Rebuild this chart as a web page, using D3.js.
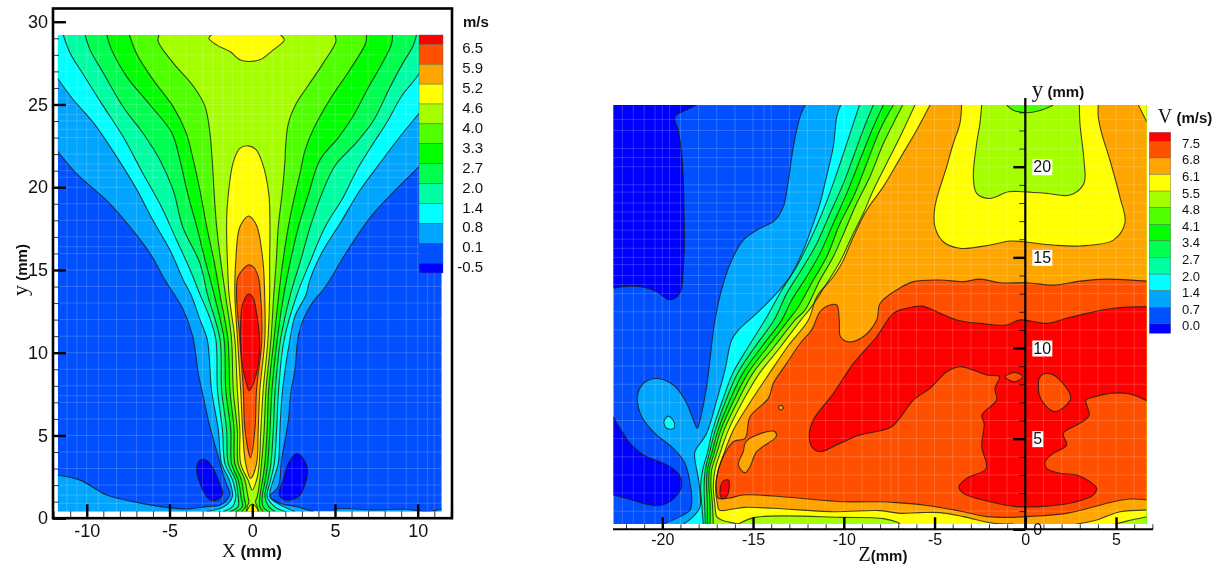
<!DOCTYPE html>
<html>
<head>
<meta charset="utf-8">
<script src="https://cdn.jsdelivr.net/npm/d3@7"></script>
<style>
body { margin: 0; background: #fff; }
svg { filter: blur(0.35px); }
text { font-family: "Liberation Sans", Arial, sans-serif; fill: #111; }
.serif { font-family: "Liberation Serif", serif; }
.bold { font-weight: bold; }
.tick line { stroke: #000; }
.domain { display: none; }
</style>
</head>
<body>
<svg id="plot" width="1225" height="568"></svg>
<script>
// ---- left chart: X / y in mm, contour lines ----
var leftLabels = ["6.5","5.9","5.2","4.6","4.0","3.3","2.7","2.0","1.4","0.8","0.1","-0.5"];
var bandColors = ["#ff5000","#ffa500","#ffff00","#a5ff00","#50ff00","#00ff00","#00ff50","#00ffa5","#00ffff","#00a5ff","#0050ff","#0000ff"];
var topColor = "#ff0000";
var leftXTicks = [-10,-5,0,5,10];
var leftYTicks = [0,5,10,15,20,25,30];
var leftXMinor = d3.range(-12,13);
var leftYMinor = d3.range(0,31);
var leftMeshX = [-11.2,-10.6,-10,-9.3,-8.2,-7,-6,-5,-4,-3,-2.4,-1.8,-1.2,-0.6,0,0.6,1.2,1.8,2.4,3,4,5,6,7,8.2,9.3,10,10.6,11];
var leftMeshY = [0.9,1.4,2,3,4,5,6,7,7.4,8,9,10,11,12,13,14,15,16,16.4,17,18,19,20,20.6,21,21.4,22,23,23.5,24,24.4,25,25.4,26,27,28];

var l08Left = [[-11.78,22.2],[-10.6,20.8],[-8.8,19.2],[-7.39,17.6],[-6.18,16],[-5.28,14.4],[-4.77,13.6],[-4.17,12.6],[-3.6,11],[-3.26,8.75],[-2.96,7.35],[-2.56,5.53],[-2.05,3.72],[-1.65,2.3],[-1.35,1.5],[-1.45,1.2],[-1.95,0.8],[-2.76,0.7],[-3.97,0.56],[-5.08,0.64],[-7.19,1],[-8.8,1.4],[-10.4,2.3],[-11.78,2.6]];
var l08Right = [[11.44,22.65],[10.03,21.2],[8.52,19.7],[7.31,18.4],[6.3,17],[5.4,15.6],[4.69,14.4],[4.29,13.8],[3.69,13.1],[3.08,12],[2.78,11],[2.58,9],[2.32,7.5],[2.18,5.9],[1.77,3.5],[1.57,1.9],[1.07,1.3],[1.67,0.9],[2.68,0.7],[3.69,0.4]];
var l08Strip = [[5,0.4],[5.1,0.54],[7.31,0.5],[9.33,0.54],[10.53,0.4],[11.44,0.56]];
var l14Left = [[-11.78,26.6],[-10.82,25.3],[-9.6,23.9],[-8.2,21.85],[-7,19.9],[-6,18],[-4.97,16.2],[-4.17,14.4],[-3.7,13.5],[-3.16,12],[-2.72,10.8],[-2.46,7.75],[-2.05,5.33],[-1.85,3.3],[-1.39,2.3],[-1.2,1.3],[-1.7,0.7],[-2.75,0.4]];
var l14Right = [[11.44,26.1],[10.03,24.4],[8.92,23.05],[7.71,21.45],[6.5,19.8],[5.3,17.8],[4.29,16.2],[3.48,14.4],[3.25,13.5],[2.58,12.2],[2.28,10.8],[1.83,7.75],[1.67,5.33],[1.57,3.3],[1.27,2.3],[1.07,1.3],[1.9,0.7],[2.58,0.4]];
var l20Left = [[-11.42,29.2],[-11,28.1],[-10.2,26.8],[-9,24.9],[-7.8,23.05],[-6.59,20.8],[-5.58,19],[-4.57,16.8],[-3.75,15],[-3.15,13.5],[-2.6,12.2],[-2.2,10.8],[-2.1,7.75],[-1.8,5.33],[-1.65,3.3],[-1.19,2.3],[-1,1.3],[-1.2,0.7],[-1.75,0.4]];
var l20Right = [[11.34,29.2],[10.03,26.8],[9.02,25.5],[8.12,23.9],[7.31,22.65],[6.3,21],[5.5,19.4],[4.4,17.6],[3.5,15.5],[2.7,13.5],[1.93,10.8],[1.59,7.75],[1.47,5.33],[1.33,3.3],[1.11,2.3],[0.9,1.3],[1.35,0.7],[1.97,0.4]];
var l27Left = [[-10.1,29.2],[-9.8,28.3],[-9,26.9],[-7.8,24.85],[-6.59,23.25],[-5.58,21.65],[-4.77,19.8],[-4.2,17.6],[-3.16,15.4],[-2.7,13.5],[-1.95,10.8],[-1.85,7.75],[-1.55,5.33],[-1.45,3.3],[-1,2.3],[-0.85,1.3],[-0.85,0.7],[-1.35,0.4]];
var l27Right = [[9.93,29.2],[9.7,28.5],[9.1,27.5],[8.3,26],[7.31,24],[6.2,22.6],[5,21.3],[4.2,19.6],[3.5,17.6],[2.9,15.5],[2.3,13.5],[1.71,10.8],[1.39,7.75],[1.27,5.33],[1.13,3.3],[0.95,2.3],[0.77,1.3],[1,0.7],[1.37,0.4]];
var l33Left = [[-8.79,29.2],[-8.5,28.3],[-7.6,26.7],[-6.2,25],[-4.87,23.3],[-4.37,21.64],[-3.9,19.6],[-3.35,17.6],[-2.85,15.6],[-2.3,13.5],[-1.7,10.8],[-1.6,7.75],[-1.3,5.33],[-1.25,3.3],[-0.85,2.3],[-0.68,1.3],[-0.6,0.7],[-0.95,0.4]];
var l33Right = [[8.48,29.2],[8.4,28.6],[7.8,27.4],[7,26],[6.1,24.3],[5.2,23],[4.09,21.64],[3.4,19.6],[2.79,17.6],[2.3,15.5],[1.9,13.5],[1.51,10.8],[1.19,7.75],[1.07,5.33],[0.93,3.3],[0.79,2.3],[0.6,1.3],[0.65,0.7],[0.97,0.4]];
var l40Left = [[-7.42,29.2],[-7,28.1],[-6,26.5],[-4.8,24.9],[-4,23.3],[-3.56,21.64],[-3.1,19.5],[-2.75,17.6],[-2.3,15.5],[-1.95,13.5],[-1.47,10.8],[-1.35,7.75],[-1.1,5.33],[-1.05,3.3],[-0.65,2.3],[-0.5,1.3],[-0.4,0.7],[-0.65,0.4]];
var l40Right = [[6.9,29.2],[6.85,28.7],[5.9,27.1],[4.69,25.3],[3.69,23.5],[3.18,22.2],[2.88,20.8],[2.5,19.2],[2.18,17.6],[1.85,15.5],[1.6,13.5],[1.31,10.8],[0.99,7.75],[0.9,5.33],[0.76,3.3],[0.62,2.3],[0.46,1.3],[0.45,0.7],[0.66,0.4]];
var l46Left = [[-5.64,29.2],[-5.68,28.8],[-4.77,27.5],[-3.56,26.1],[-2.86,24.9],[-2.56,23.3],[-2.42,21.64],[-2.3,19.6],[-2.15,17.6],[-1.9,15.5],[-1.62,13.5],[-1.25,10.8],[-1.15,7.75],[-0.9,5.33],[-0.85,3.3],[-0.45,2.3],[-0.26,1.3],[-0.2,1],[-0.3,0.7],[-0.36,0.4]];
var l46Right = [[5,29.2],[5.05,28.8],[4.29,27.5],[3.28,26],[2.68,25.1],[2.18,23.85],[2,22.2],[1.98,21.64],[1.8,19.6],[1.57,17.6],[1.45,15.5],[1.3,13.5],[1.13,10.8],[0.83,7.75],[0.72,5.33],[0.56,3.3],[0.46,2.3],[0.3,1.3],[0.2,1],[0.3,0.7],[0.36,0.4]];
var l52Top = [[-2.46,29.2],[-2.62,29],[-2.16,28.6],[-1.35,28.2],[-0.75,27.7],[-0.24,27.6],[0.46,27.7],[1.27,28.3],[1.93,28.9],[1.71,29.2]];
var l52Core = [[-0.24,22.5],[-0.75,22.35],[-1.15,21.5],[-1.5,19],[-1.55,17.6],[-1.5,15.5],[-1.4,13.5],[-1.05,10.8],[-0.9,7.75],[-0.75,5.33],[-0.7,3.3],[-0.25,2.3],[0,1.7],[0.26,2.3],[0.42,3.3],[0.52,5.33],[0.66,7.75],[0.95,10.8],[1.05,13.5],[1.05,15.5],[1.07,17.6],[1,19.6],[0.6,21.5],[0.2,22.3]];
var l52Foot = [[-0.34,0.4],[0,0.86],[0.42,0.4]];
var l59Core = [[-0.24,18.26],[-0.75,17.6],[-1,15.5],[-1.05,13.5],[-0.89,10.8],[-0.7,7.75],[-0.58,5.33],[-0.4,3.3],[-0.1,2.4],[0.26,3.3],[0.36,5.33],[0.46,7.75],[0.76,10.8],[0.75,13.5],[0.65,15.5],[0.3,17.6],[0,18.1]];
var l65Core = [[-0.24,15.3],[-0.85,14.6],[-0.95,13.5],[-0.75,10.8],[-0.54,7.75],[-0.44,5.33],[-0.1,3.65],[0.16,5.33],[0.26,7.75],[0.58,10.8],[0.5,13.5],[0.36,14.6],[0.05,15.2]];
var lTopCore = [[-0.2,13.55],[-0.58,12.97],[-0.7,11.77],[-0.7,10.57],[-0.58,9.15],[-0.38,8.25],[-0.18,7.7],[0.16,8.4],[0.42,9.76],[0.42,11.17],[0.26,12.4],[0.06,13.3]];
var lBlueLeft = [[-3.36,3],[-3.16,3.5],[-2.76,3.5],[-2.36,3],[-2.05,2.3],[-1.79,1.5],[-2.05,1.14],[-2.56,1.1],[-2.86,1.5],[-3.16,2.1]];
var lBlueRight = [[1.63,1.6],[1.87,2.3],[2.18,3.3],[2.68,3.9],[3.08,3.6],[3.34,2.9],[3.18,2],[2.88,1.4],[2.28,1.1],[1.77,1.2]];

// ---- right chart: Z / y in mm ----
var rightLabels = ["7.5","6.8","6.1","5.5","4.8","4.1","3.4","2.7","2.0","1.4","0.7","0.0"];
var rightXTicks = [-20,-15,-10,-5,0,5];
var rightYTicks = [0,5,10,15,20];
var rightXMinor = d3.range(-22,8);
var rightYMinor = d3.range(0,24);
var rightMeshX = [-22.2,-21.6,-21,-20.4,-20,-19.6,-19,-18,-17,-16,-15,-14.4,-14,-13,-12,-11,-10,-9,-8,-7.4,-7,-6,-5,-4,-3,-2,-1,1,2,3,4,5,6];
var rightMeshY = [1,2,3,4,5,6,7,8,9,10,11,12,13,13.5,14,14.6,15,15.5,16,16.5,17,17.5,18,18.6,19,20,20.5,21,22,22.6];

var r00Top = [[-18.1,23.4],[-18.57,23.18],[-19.3,22.75],[-19.12,22],[-18.93,20.7],[-18.84,19.26],[-18.8,17.42],[-18.78,15.95],[-18.84,14.5],[-18.97,13.2],[-19.3,12.74],[-19.67,12.68],[-20.31,13.1],[-21.04,13.35],[-21.96,13.4],[-22.7,13.3]];
var r00Low = [[-22.7,6.2],[-22.33,5.57],[-21.78,4.74],[-21.04,4.1],[-19.76,3.55],[-19.12,3.09],[-18.93,2.53],[-19.12,1.98],[-19.76,1.43],[-20.31,1.3],[-21.04,1.43],[-21.96,1.7],[-22.7,1.89]];
var r14Line = [[-12.13,23.4],[-12.41,22.75],[-12.78,21.1],[-13.05,19.26],[-13.33,17.8],[-13.79,17.05],[-14.8,16.5],[-15.54,15.95],[-16.09,15.03],[-16.64,13.56],[-17.1,11.54],[-17.56,7.86],[-17.92,6.03],[-18.07,5.57],[-18.29,6.03],[-18.75,7.13],[-19.39,7.96],[-20.31,8.32],[-21.04,8.05],[-21.37,7.31],[-21.13,6.21],[-20.4,5.29],[-19.39,4.46],[-18.75,3.64],[-18.47,2.53],[-18.38,1.8],[-18.47,1.06],[-19.02,0.7],[-19.94,0.29]];
var r20Line = [[-10.17,23.4],[-10.39,22.75],[-10.58,21.1],[-10.95,19.45],[-11.31,17.98],[-11.68,16.87],[-12.23,15.4],[-12.96,13.93],[-13.88,12.83],[-14.8,11.91],[-15.8,11],[-16.18,10.44],[-16.55,8.78],[-17,7.13],[-17.56,5.29],[-18.2,4.28],[-18.2,3.82],[-18,2.72],[-17.92,1.25],[-18.3,0.7],[-18.84,0.29]];
var r20Spot = [[-19.67,6.24],[-19.91,5.93],[-19.76,5.57],[-19.36,5.57],[-19.36,5.93]];
var r27Line = [[-9.14,23.4],[-9.47,22.39],[-10.02,20.73],[-10.58,19.08],[-11.13,17.6],[-11.86,15.95],[-12.6,14.48],[-13.42,13.19],[-14.34,11.54],[-15.26,10.07],[-16.12,8.6],[-16.67,7.13],[-17.23,5.47],[-17.52,4.19],[-17.78,3.27],[-17.89,2.35],[-17.83,1.43],[-17.74,0.29]];
var r34Line = [[-8.37,23.4],[-8.93,22.03],[-9.47,20.55],[-10.02,19.08],[-10.76,17.42],[-11.49,15.77],[-12.23,14.48],[-13.15,13],[-13.84,11.54],[-14.89,10.07],[-15.86,8.6],[-16.49,7.13],[-17.08,5.47],[-17.41,4.19],[-17.63,3.27],[-17.7,2.35],[-17.67,1.43],[-17.63,0.29]];
var r41Line = [[-7.82,23.4],[-8.37,22.2],[-9.11,20.37],[-9.84,18.53],[-10.58,16.87],[-11.31,15.22],[-12.05,13.93],[-12.87,12.65],[-13.42,11.54],[-14.52,10.07],[-15.57,8.6],[-16.27,7.13],[-16.93,5.47],[-17.28,4.19],[-17.52,3.27],[-17.56,2.35],[-17.52,1.43],[-17.52,0.29]];
var r48Line = [[-7.27,23.4],[-8.01,22.03],[-8.74,20.18],[-9.47,18.34],[-10.21,16.87],[-10.94,15.03],[-11.68,13.75],[-12.5,12.28],[-13.05,11.54],[-14.19,10.07],[-15.29,8.6],[-16.05,7.13],[-16.78,5.47],[-17.15,4.19],[-17.41,3.27],[-17.43,2.35],[-17.37,1.43],[-17.37,0.29]];
var r55Line = [[-6.76,23.4],[-7.09,22.75],[-7.82,21.28],[-8.56,19.45],[-9.29,17.98],[-9.93,16.5],[-10.58,15.03],[-11.31,13.75],[-12.14,12.09],[-12.69,11.54],[-13.84,10.07],[-15.02,8.6],[-15.81,7.13],[-16.6,5.47],[-17,4.19],[-17.28,3.27],[-17.32,2.35],[-17.24,1.43],[-17.19,0.29]];
var r61Line = [[-6.08,23.4],[-6.9,21.65],[-7.64,20.18],[-8.37,18.71],[-8.93,17.42],[-9.56,16.14],[-10.21,14.76],[-10.94,13.56],[-11.77,12.28],[-12.37,11.54],[-13.48,10.07],[-14.65,8.6],[-15.53,7.13],[-16.36,5.47],[-16.82,4.19],[-17.1,3.27],[-17.19,2.35],[-17.11,1.43],[-17,0.7],[-16.73,0.51],[-15.81,0.29]];
var r61Mid = [[-15.81,0.29],[-14.89,0.66],[-10.02,0.66],[-7.82,0.59],[-7.08,0.4],[-6.9,0.29]];
var r61End = [[4.94,0.29],[5.59,0.45],[6.69,0.69]];
var r68Line = [[-5.25,23.4],[-5.98,22.03],[-6.9,20.46],[-7.82,18.9],[-8.74,17.6],[-9.47,16.14],[-10.11,14.67],[-10.58,13.93],[-11.49,12.83],[-11.95,11.54],[-13.1,10.07],[-14.1,8.6],[-15.08,7.13],[-16.09,5.47],[-16.6,4.19],[-16.91,3.27],[-17.06,2.35],[-16.97,1.43],[-16.86,1.06],[-16.09,1.12],[-15.44,1.21],[-13.88,1.16],[-10.57,0.97],[-8,1.03],[-6.9,0.88],[-5.8,0.92],[-4.7,0.92],[-3.41,0.7],[-1.76,0.33],[-0.66,0.29]];
var r68Mid = [[2.83,0.29],[3.93,0.51],[5.22,0.97],[6.69,1.06]];
var r68Corner = [[6.69,22.48],[6.23,23.4]];
var r68Notch = [[4.02,23.4],[4.02,22.75],[4.21,21.84],[4.66,20.37],[5.21,18.34],[5.49,16.9],[4.85,15.95],[3.01,15.63],[1.54,15.68],[-0.11,15.86],[-0.84,15.9],[-1.95,15.68],[-3.6,15.5],[-4.52,15.86],[-4.98,16.69],[-4.98,17.79],[-4.33,20],[-3.97,21.28],[-3.6,22.39],[-3.51,23.4]];
var r55Patch = [[-2.4,23.4],[-2.5,22.39],[-2.68,21.28],[-2.86,19.45],[-2.68,18.53],[-1.95,18.25],[-0.93,18.62],[-0.11,18.62],[1.18,18.53],[2.46,18.44],[3.23,19.08],[3.23,20.37],[3.01,22.39],[2.98,23.4]];
var r48Patch = [[-1.03,23.4],[-0.66,23.12],[0,22.98],[0.81,23.1],[1.54,23.4]];
var r75Line = [[6.69,13.69],[4.48,13.8],[3.01,13.69],[1.54,13.47],[0.07,13.6],[-1.39,13.6],[-2.5,13.8],[-3.41,13.66],[-4.7,13.75],[-6.17,13.66],[-7.09,13.2],[-8,12.46],[-8.19,11.54],[-8.93,10.62],[-9.75,10.34],[-10.18,10.62],[-10.25,11.54],[-10.39,12.37],[-10.76,12.37],[-11.31,12],[-11.77,11],[-12.41,10.25],[-13.15,9.15],[-13.88,8.05],[-14.16,7.22],[-15.17,6.21],[-15.44,5.02],[-16.09,4.83],[-16.73,3.82],[-17,2.9],[-17,1.98],[-16.91,1.71],[-16.36,1.71],[-15.54,1.89],[-13.88,1.84],[-12.41,1.71],[-10.02,1.52],[-8,1.52],[-7.09,1.47],[-5.62,1.34],[-3.41,0.97],[-2.13,0.7],[-0.66,0.66],[-0.02,0.7],[2.28,0.88],[4.85,1.52],[5.76,1.67],[6.69,1.62]];
var r68PatchA = [[-15.39,4.83],[-14.25,5.38],[-13.79,5.38],[-13.73,5.11],[-14.8,4.28],[-15.17,3.45],[-15.44,3.12],[-15.81,3.55],[-15.54,4.28]];
var r68Dot = [[-13.6,6.71],[-13.48,6.84],[-13.33,6.71],[-13.48,6.58]];
var rTopLine = [[6.69,12.28],[4.85,12.19],[3.38,11.91],[2.28,11.64],[1.18,11.36],[-0.29,11.55],[-1.03,11.27],[-2.5,11.36],[-3.78,11.55],[-4.88,12],[-5.71,12.31],[-6.54,12.19],[-7.27,11.91],[-8.19,10.62],[-9.47,9.15],[-10.57,7.5],[-11.68,6.03],[-11.9,5.29],[-11.77,4.56],[-11.31,4.28],[-10.21,4.74],[-9.11,5.2],[-8,5.44],[-7.36,5.66],[-6.72,6.39],[-6.17,7.13],[-5.25,7.77],[-4.33,8.69],[-3.6,8.97],[-2.86,8.78],[-2.13,8.51],[-1.43,8.42],[-1.67,7.77],[-1.58,7.13],[-2.4,6.3],[-2.27,5.84],[-2.4,4.56],[-2.16,3.36],[-3.23,2.81],[-3.66,2.35],[-3.41,1.98],[-1.95,1.52],[-0.48,1.25],[1.18,1.28],[2.83,1.52],[3.74,1.89],[3.93,2.26],[3.56,2.63],[2.83,2.99],[1.91,3.09],[1.18,3.36],[1.09,3.73],[1.54,4.19],[2.28,4.65],[2.09,5.29],[3.01,5.84],[3.52,6.3],[3.34,7.13],[3.74,7.28],[4.66,7.5],[5.76,7.46],[6.69,7.09]];
var r75HoleA = [[-1.12,8.41],[-0.57,8.65],[-0.15,8.41],[-0.57,8.14]];
var r75HoleB = [[0.77,8.33],[0.99,8.56],[1.45,8.56],[1.91,8.23],[2.5,7.22],[1.64,6.49],[1.09,6.85],[0.77,7.41],[0.72,7.87]];
var rTopSpot = [[-16.36,2.72],[-16.64,2.66],[-16.82,2.16],[-16.73,1.71],[-16.49,1.76],[-16.31,2.35]];

var svg = d3.select("#plot");

// scales
var xLeft = d3.scaleLinear().domain([-12.04,12.07]).range([53,452]);
var yLeft = d3.scaleLinear().domain([0,30.8]).range([518.2,8.5]);
var xRight = d3.scaleLinear().domain([-23,7]).range([607.85,1152.35]);
var yRight = d3.scaleLinear().domain([0,24]).range([529.3,94.2]);

function corner(x, y) { return [[x, y]]; }

function drawField(id, x, y, x0, x1, y0, y1, base, regions, meshX, meshY) {
    var g = svg.append("g").attr("clip-path", "url(#" + id + ")");
    svg.append("clipPath").attr("id", id).append("rect")
        .attr("x", x(x0)).attr("y", y(y1))
        .attr("width", x(x1) - x(x0)).attr("height", y(y0) - y(y1));

    g.append("rect").attr("x", x(x0)).attr("y", y(y1))
        .attr("width", x(x1) - x(x0)).attr("height", y(y0) - y(y1))
        .attr("fill", base);

    var open = d3.line().x(function(d) { return x(d[0]); }).y(function(d) { return y(d[1]); })
        .curve(d3.curveCatmullRom.alpha(0.5));
    var closed = d3.line().x(function(d) { return x(d[0]); }).y(function(d) { return y(d[1]); })
        .curve(d3.curveCatmullRomClosed.alpha(0.5));

    function segPath(s) {
        if (s.length == 1) return "M" + x(s[0][0]) + "," + y(s[0][1]);
        return open(s);
    }

    regions.forEach(function(r) {
        var d = r.closed ? closed(r.segs[0]) : r.segs.map(function(s, i) {
            var p = segPath(s);
            return i ? "L" + p.slice(1) : p;
        }).join("") + "Z";
        g.append("path").attr("d", d).attr("fill", r.color);
    });

    // faint white mesh of the measuring grid
    g.selectAll("line.mv").data(meshX).enter().append("line")
        .attr("x1", function(d) { return x(d); }).attr("x2", function(d) { return x(d); })
        .attr("y1", y(y0)).attr("y2", y(y1))
        .attr("stroke", "#fff").attr("stroke-opacity", 0.18);
    g.selectAll("line.mh").data(meshY).enter().append("line")
        .attr("y1", function(d) { return y(d); }).attr("y2", function(d) { return y(d); })
        .attr("x1", x(x0)).attr("x2", x(x1))
        .attr("stroke", "#fff").attr("stroke-opacity", 0.18);

    regions.forEach(function(r) {
        var d = r.closed ? closed(r.segs[0]) : r.segs.filter(function(s) { return s.length > 1; }).map(open).join("");
        g.append("path").attr("d", d).attr("fill", "none")
            .attr("stroke", "#1a1a1a").attr("stroke-opacity", 0.8).attr("stroke-width", 1.1);
    });
}

function col(i) { return bandColors[i]; }
function rev(a) { return a.slice().reverse(); }

// band index follows the legend, 0 = top band below red
var leftTop = 29.2, leftLeft = -11.75, leftRight = 11.45, leftBottom = 0.4;
var leftRegions = [
    { color: col(9), segs: [corner(leftLeft, leftTop), l08Left, corner(leftLeft, leftBottom), rev(l08Right), corner(leftRight, leftTop)] },
    { color: col(9), segs: [l08Strip, corner(leftRight, leftBottom)] },
    { color: col(11), closed: true, segs: [lBlueLeft] },
    { color: col(11), closed: true, segs: [lBlueRight] },
    { color: col(8), segs: [corner(leftLeft, leftTop), l14Left, rev(l14Right), corner(leftRight, leftTop)] },
    { color: col(7), segs: [l20Left, rev(l20Right)] },
    { color: col(6), segs: [l27Left, rev(l27Right)] },
    { color: col(5), segs: [l33Left, rev(l33Right)] },
    { color: col(4), segs: [l40Left, rev(l40Right)] },
    { color: col(3), segs: [l46Left, rev(l46Right)] },
    { color: col(2), segs: [l52Top] },
    { color: col(2), closed: true, segs: [l52Core] },
    { color: col(2), segs: [l52Foot] },
    { color: col(1), closed: true, segs: [l59Core] },
    { color: col(0), closed: true, segs: [l65Core] },
    { color: topColor, closed: true, segs: [lTopCore] }
];

var rightTop = 23.4, rightLeft = -22.7, rightRight = 6.69, rightBottom = 0.29;
function toRightEdge(line) { return { segs: [line, corner(rightRight, rightBottom), corner(rightRight, rightTop)] }; }
function band(i, line) { var r = toRightEdge(line); r.color = col(i); return r; }
var rightRegions = [
    { color: col(11), segs: [corner(rightLeft, rightTop), r00Top] },
    { color: col(11), segs: [r00Low] },
    band(9, r14Line),
    band(8, r20Line),
    { color: col(8), closed: true, segs: [r20Spot] },
    band(7, r27Line),
    band(6, r34Line),
    band(5, r41Line),
    band(4, r48Line),
    band(3, r55Line),
    { color: col(2), segs: [r61Line, r61Mid, r61End, corner(rightRight, rightTop)] },
    { color: col(1), segs: [r68Line, r68Mid, r68Corner, r68Notch] },
    { color: col(3), segs: [r55Patch] },
    { color: col(4), segs: [r48Patch] },
    { color: col(0), segs: [r75Line] },
    { color: col(1), closed: true, segs: [r68PatchA] },
    { color: col(1), closed: true, segs: [r68Dot] },
    { color: topColor, segs: [rTopLine] },
    { color: col(0), closed: true, segs: [r75HoleA] },
    { color: col(0), closed: true, segs: [r75HoleB] },
    { color: topColor, closed: true, segs: [rTopSpot] }
];

drawField("clipLeft", xLeft, yLeft, leftLeft, leftRight, leftBottom, leftTop, col(10), leftRegions, leftMeshX, leftMeshY);
drawField("clipRight", xRight, yRight, rightLeft, rightRight, rightBottom, rightTop, col(10), rightRegions, rightMeshX, rightMeshY);

function drawLegend(labels, x, width, top, first, step, bottom, labelX, labelDy, size) {
    var s = d3.scaleLinear().domain([0, labels.length]).range([first, first + step * labels.length]);
    var g = svg.append("g");
    g.append("rect").attr("x", x).attr("y", top).attr("width", width).attr("height", first - top)
        .attr("fill", topColor).attr("stroke", "#555").attr("stroke-width", 0.4);
    g.selectAll("rect.band").data(labels).enter().append("rect")
        .attr("x", x).attr("width", width)
        .attr("y", function(d, i) { return s(i); })
        .attr("height", function(d, i) { return i == labels.length - 1 ? bottom - s(i) : step; })
        .attr("fill", function(d, i) { return col(i); })
        .attr("stroke", "#555").attr("stroke-width", 0.4);
    g.selectAll("text").data(labels).enter().append("text")
        .attr("x", labelX)
        .attr("y", function(d, i) { return s(i) + labelDy; })
        .attr("dy", "0.35em")
        .attr("text-anchor", "end")
        .attr("font-size", size)
        .text(function(d) { return d; });
}
drawLegend(leftLabels, 419, 24, 35, 44.3, 19.9, 273, 483, 3.8, 15);
drawLegend(rightLabels, 1149.3, 21.4, 132.3, 141.3, 16.6, 333.3, 1200, 2, 13);

// left frame and axes
svg.append("rect").attr("x", xLeft(-12.04)).attr("y", yLeft(30.8))
    .attr("width", xLeft(12.07) - xLeft(-12.04)).attr("height", yLeft(0) - yLeft(30.8))
    .attr("fill", "none").attr("stroke", "#000").attr("stroke-width", 2.6);

function styleMajor(g, size) {
    g.selectAll(".tick line").attr("stroke-width", 2.4);
    g.selectAll(".tick text").attr("font-size", size).attr("font-family", null);
}

var lxMinor = svg.append("g").attr("transform", "translate(0," + yLeft(0) + ")")
    .call(d3.axisBottom(xLeft).tickValues(leftXMinor).tickSize(-7).tickFormat(""));
lxMinor.selectAll("line").attr("stroke-width", 0.8);
var lyMinor = svg.append("g").attr("transform", "translate(" + xLeft(-12.04) + ",0)")
    .call(d3.axisLeft(yLeft).tickValues(leftYMinor).tickSize(-6).tickFormat(""));
lyMinor.selectAll("line").attr("stroke-width", 0.8);

var lxAxis = svg.append("g").attr("transform", "translate(0," + yLeft(0) + ")")
    .call(d3.axisBottom(xLeft).tickValues(leftXTicks).tickSize(-14).tickPadding(6).tickFormat(String));
styleMajor(lxAxis, 18);
var lyAxis = svg.append("g").attr("transform", "translate(" + xLeft(-12.04) + ",0)")
    .call(d3.axisLeft(yLeft).tickValues(leftYTicks).tickSize(-13).tickPadding(5).tickFormat(String));
styleMajor(lyAxis, 18);

// right axes, crossing at the origin
var rxMinor = svg.append("g").attr("transform", "translate(0," + yRight(0) + ")")
    .call(d3.axisBottom(xRight).tickValues(rightXMinor).tickSize(-5).tickFormat(""));
rxMinor.selectAll("line").attr("stroke-width", 0.8);
var ryMinor = svg.append("g").attr("transform", "translate(" + xRight(0) + ",0)")
    .call(d3.axisRight(yRight).tickValues(rightYMinor).tickSize(-6).tickFormat(""));
ryMinor.selectAll("line").attr("stroke-width", 0.8);

var rxAxis = svg.append("g").attr("transform", "translate(0," + yRight(0) + ")")
    .call(d3.axisBottom(xRight).tickValues(rightXTicks).tickSize(-12).tickPadding(4).tickFormat(String));
styleMajor(rxAxis, 16);
var ryAxis = svg.append("g").attr("transform", "translate(" + xRight(0) + ",0)")
    .call(d3.axisRight(yRight).tickValues(rightYTicks).tickSize(-12).tickPadding(8).tickFormat(String));
styleMajor(ryAxis, 16);
ryAxis.selectAll(".tick").filter(function(d) { return d > 0; }).insert("rect", "text")
    .attr("x", 7).attr("y", -8).attr("width", function(d) { return d < 10 ? 11 : 20; }).attr("height", 16)
    .attr("fill", "#fff");

svg.append("line").attr("x1", 613).attr("x2", 1153).attr("y1", yRight(0)).attr("y2", yRight(0))
    .attr("stroke", "#000").attr("stroke-width", 2);
svg.append("line").attr("x1", xRight(0)).attr("x2", xRight(0)).attr("y1", 98).attr("y2", yRight(0))
    .attr("stroke", "#000").attr("stroke-width", 2.2);

// titles
function title(x, y, serif, rest, serifSize, restSize, rotate) {
    var t = svg.append("text").attr("x", x).attr("y", y).attr("text-anchor", "middle");
    if (rotate) t.attr("transform", "rotate(-90," + x + "," + y + ")");
    t.append("tspan").attr("class", "serif").attr("font-size", serifSize).text(serif);
    t.append("tspan").attr("class", "bold").attr("font-size", restSize).text(rest);
}
title(252, 557, "X", " (mm)", 19, 17);
title(27, 270, "y", " (mm)", 22, 15, true);
title(883, 561, "Z", "(mm)", 20, 15);
title(1058, 97, "y", " (mm)", 23, 15);
title(1185, 123, "V", " (m/s)", 20, 15);
svg.append("text").attr("x", 463).attr("y", 27).attr("class", "bold").attr("font-size", 15).text("m/s");
</script>
</body>
</html>
